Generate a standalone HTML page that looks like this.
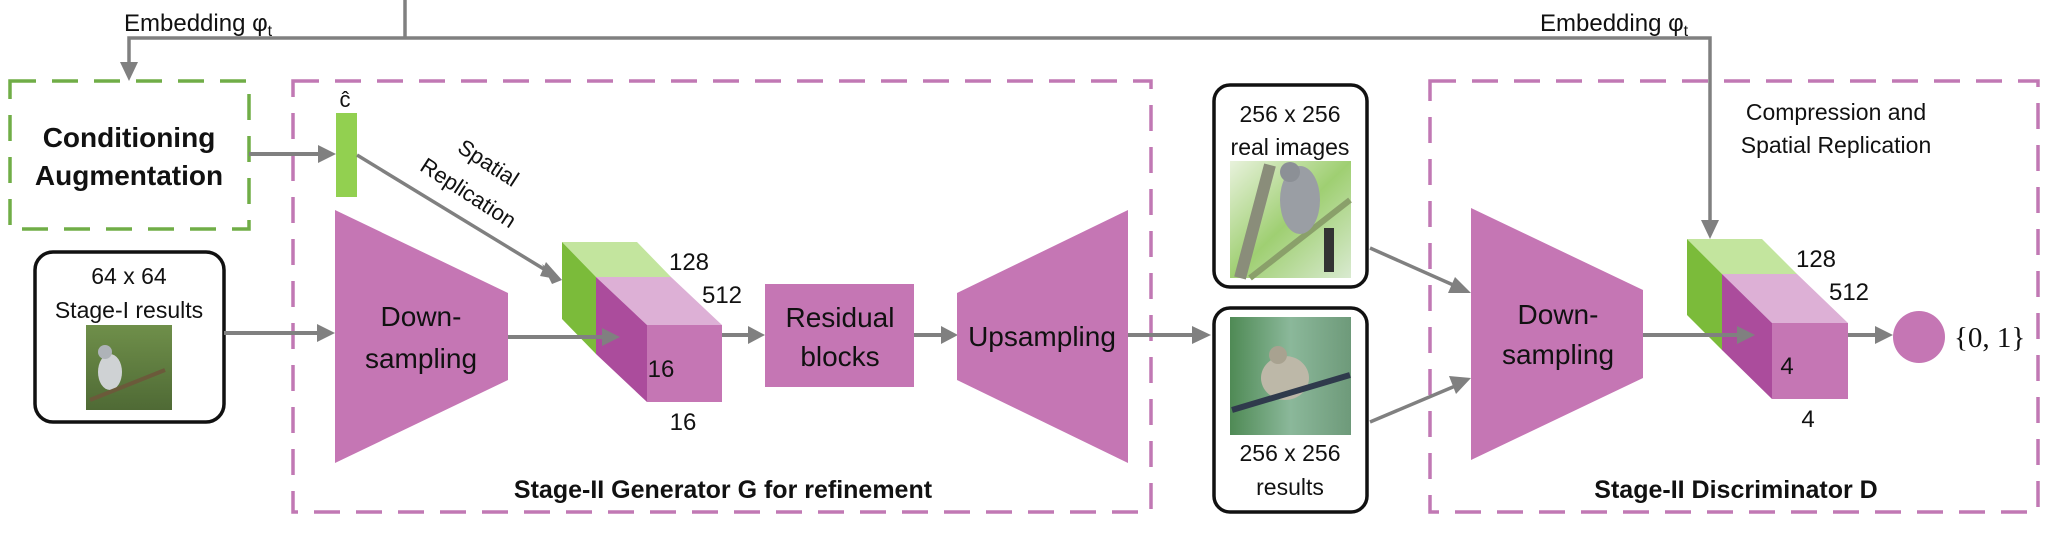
<!DOCTYPE html>
<html><head><meta charset="utf-8"><style>
html,body{margin:0;padding:0;background:#fff;}
svg{display:block;}
text{font-family:"Liberation Sans",sans-serif;fill:#111;}
</style></head><body>
<svg width="2048" height="533" viewBox="0 0 2048 533" xmlns="http://www.w3.org/2000/svg">
<defs>
<marker id="ah" markerWidth="6" markerHeight="6" refX="5" refY="3" orient="auto" markerUnits="strokeWidth">
<path d="M0,0 L6,3 L0,6 z" fill="#808080"/></marker>
<linearGradient id="g1" x1="0" y1="0" x2="0" y2="1"><stop offset="0" stop-color="#6f8f4a"/><stop offset="1" stop-color="#4f6a35"/></linearGradient>
<linearGradient id="g2" x1="0" y1="0" x2="1" y2="1"><stop offset="0" stop-color="#e8f2dc"/><stop offset="0.5" stop-color="#9fcf72"/><stop offset="1" stop-color="#d9ead0"/></linearGradient>
<linearGradient id="g3" x1="0" y1="0" x2="1" y2="0"><stop offset="0" stop-color="#4f8a55"/><stop offset="0.5" stop-color="#8bb89a"/><stop offset="1" stop-color="#6e9a7a"/></linearGradient>
</defs>

<!-- embedding lines -->
<g stroke="#808080" stroke-width="3.5" fill="none">
<line x1="405" y1="0" x2="405" y2="38"/>
<polyline points="129,72 129,38 1710,38 1710,228"/>
</g>
<polygon points="120,62 138,62 129,81" fill="#808080"/>
<polygon points="1701,220 1719,220 1710,239" fill="#808080"/>
<text x="124" y="31" font-size="24">Embedding φ<tspan font-size="16" dy="5">t</tspan></text>
<text x="1540" y="31" font-size="24">Embedding φ<tspan font-size="16" dy="5">t</tspan></text>

<!-- dashed boxes -->
<rect x="10" y="81" width="239" height="148" fill="none" stroke="#70ad47" stroke-width="3.5" stroke-dasharray="26,16"/>
<rect x="293" y="81" width="858" height="431" fill="none" stroke="#c178b4" stroke-width="3.5" stroke-dasharray="26,16"/>
<rect x="1430" y="81" width="608" height="431" fill="none" stroke="#c178b4" stroke-width="3.5" stroke-dasharray="26,16"/>

<text x="129" y="147" font-size="28" font-weight="bold" text-anchor="middle">Conditioning</text>
<text x="129" y="185" font-size="28" font-weight="bold" text-anchor="middle">Augmentation</text>

<!-- CA -> c hat -->
<line x1="249" y1="154" x2="326" y2="154" stroke="#808080" stroke-width="4"/>
<polygon points="318,145 336,154 318,163" fill="#808080"/>
<rect x="336" y="113" width="21" height="84" fill="#92d050"/>
<text x="345" y="107" font-size="22" text-anchor="middle">ĉ</text>

<!-- spatial replication -->
<line x1="357" y1="155" x2="552" y2="274" stroke="#808080" stroke-width="3.5"/>
<polygon points="542,264 562,280 552,284" fill="#808080"/>
<polygon points="546,262 562,280 540,276" fill="#808080"/>
<text x="487" y="170" font-size="22" text-anchor="middle" transform="rotate(33 487 165)">Spatial</text>
<text x="467" y="200" font-size="22" text-anchor="middle" transform="rotate(33 467 195)">Replication</text>

<!-- Stage-I box -->
<rect x="35" y="252" width="189" height="170" rx="18" fill="#fff" stroke="#111" stroke-width="3.5"/>
<text x="129" y="284" font-size="23" text-anchor="middle">64 x 64</text>
<text x="129" y="318" font-size="23" text-anchor="middle">Stage-I results</text>
<rect x="86" y="325" width="86" height="85" fill="url(#g1)"/>
<ellipse cx="110" cy="372" rx="12" ry="18" fill="#cfd2d4"/>
<circle cx="105" cy="352" r="7" fill="#aeb3b8"/>
<line x1="90" y1="400" x2="165" y2="370" stroke="#6b5a3a" stroke-width="4"/>

<line x1="224" y1="333" x2="325" y2="333" stroke="#808080" stroke-width="4"/>
<polygon points="317,324 335,333 317,342" fill="#808080"/>

<!-- Down-sampling G -->
<polygon points="335,210 508,293 508,380 335,463" fill="#c576b4"/>
<text x="421" y="326" font-size="28" text-anchor="middle">Down-</text>
<text x="421" y="368" font-size="28" text-anchor="middle">sampling</text>

<!-- cube G -->
<g>
<polygon points="562,242 637,242 671,277 596,277" fill="#c3e59e"/>
<polygon points="596,277 671,277 722,325 647,325" fill="#ddb0d6"/>
<polygon points="562,242 596,277 596,354 562,319" fill="#7bbb3a"/>
<polygon points="596,277 647,325 647,402 596,354" fill="#ab4c9c"/>
<rect x="647" y="325" width="75" height="77" fill="#c576b4"/>
</g>
<line x1="508" y1="337" x2="610" y2="337" stroke="#808080" stroke-width="4"/>
<polygon points="602,328 620,337 602,346" fill="#808080"/>
<text x="689" y="270" font-size="24" text-anchor="middle">128</text>
<text x="722" y="303" font-size="24" text-anchor="middle">512</text>
<text x="661" y="377" font-size="24" text-anchor="middle">16</text>
<text x="683" y="430" font-size="24" text-anchor="middle">16</text>

<line x1="722" y1="335" x2="754" y2="335" stroke="#808080" stroke-width="4"/>
<polygon points="748,326 765,335 748,344" fill="#808080"/>
<rect x="765" y="284" width="149" height="103" fill="#c576b4"/>
<text x="840" y="327" font-size="28" text-anchor="middle">Residual</text>
<text x="840" y="366" font-size="28" text-anchor="middle">blocks</text>

<line x1="914" y1="335" x2="948" y2="335" stroke="#808080" stroke-width="4"/>
<polygon points="941,326 958,335 941,344" fill="#808080"/>
<polygon points="957,293 1128,210 1128,463 957,380" fill="#c576b4"/>
<text x="1042" y="346" font-size="28" text-anchor="middle">Upsampling</text>

<line x1="1128" y1="335" x2="1200" y2="335" stroke="#808080" stroke-width="4"/>
<polygon points="1192,326 1211,335 1192,344" fill="#808080"/>

<text x="723" y="498" font-size="25" font-weight="bold" text-anchor="middle">Stage-II Generator G for refinement</text>

<!-- real images box -->
<rect x="1214" y="85" width="153" height="202" rx="16" fill="#fff" stroke="#111" stroke-width="3.5"/>
<text x="1290" y="122" font-size="23" text-anchor="middle">256 x 256</text>
<text x="1290" y="155" font-size="23" text-anchor="middle">real images</text>
<rect x="1230" y="161" width="121" height="117" fill="url(#g2)"/>
<line x1="1240" y1="278" x2="1270" y2="165" stroke="#8a8d7a" stroke-width="12"/>
<line x1="1250" y1="278" x2="1350" y2="200" stroke="#8aa06a" stroke-width="6"/>
<ellipse cx="1300" cy="200" rx="20" ry="34" fill="#9a9ea4"/>
<circle cx="1290" cy="172" r="10" fill="#8c9096"/>
<rect x="1324" y="228" width="10" height="44" fill="#333"/>

<!-- results box -->
<rect x="1214" y="308" width="153" height="204" rx="16" fill="#fff" stroke="#111" stroke-width="3.5"/>
<rect x="1230" y="317" width="121" height="118" fill="url(#g3)"/>
<ellipse cx="1285" cy="378" rx="24" ry="22" fill="#bdb8a8"/>
<circle cx="1278" cy="355" r="9" fill="#a8a290"/>
<line x1="1232" y1="410" x2="1350" y2="375" stroke="#2f3a4c" stroke-width="6"/>
<text x="1290" y="461" font-size="23" text-anchor="middle">256 x 256</text>
<text x="1290" y="495" font-size="23" text-anchor="middle">results</text>

<line x1="1370" y1="248" x2="1460" y2="288" stroke="#808080" stroke-width="3.5"/>
<polygon points="1455,277 1471,293 1448,293" fill="#808080"/>
<line x1="1370" y1="422" x2="1460" y2="384" stroke="#808080" stroke-width="3.5"/>
<polygon points="1449,376 1471,378 1456,394" fill="#808080"/>

<!-- D -->
<polygon points="1471,208 1643,290 1643,378 1471,460" fill="#c576b4"/>
<text x="1558" y="324" font-size="28" text-anchor="middle">Down-</text>
<text x="1558" y="364" font-size="28" text-anchor="middle">sampling</text>
<text x="1836" y="120" font-size="23" text-anchor="middle">Compression and</text>
<text x="1836" y="153" font-size="23" text-anchor="middle">Spatial Replication</text>

<g>
<polygon points="1687,239 1762,239 1797,274 1722,274" fill="#c3e59e"/>
<polygon points="1722,274 1797,274 1848,323 1772,323" fill="#ddb0d6"/>
<polygon points="1687,239 1722,274 1722,350 1687,315" fill="#7bbb3a"/>
<polygon points="1722,274 1772,323 1772,399 1722,350" fill="#ab4c9c"/>
<rect x="1772" y="323" width="76" height="76" fill="#c576b4"/>
</g>
<line x1="1643" y1="335" x2="1745" y2="335" stroke="#808080" stroke-width="4"/>
<polygon points="1737,326 1755,335 1737,344" fill="#808080"/>
<text x="1816" y="267" font-size="24" text-anchor="middle">128</text>
<text x="1849" y="300" font-size="24" text-anchor="middle">512</text>
<text x="1787" y="374" font-size="24" text-anchor="middle">4</text>
<text x="1808" y="427" font-size="24" text-anchor="middle">4</text>

<line x1="1848" y1="335" x2="1882" y2="335" stroke="#808080" stroke-width="4"/>
<polygon points="1875,326 1893,335 1875,344" fill="#808080"/>
<circle cx="1919" cy="337" r="26" fill="#c576b4"/>
<text x="1954" y="347" font-size="29" style="font-family:'Liberation Serif',serif">{0, 1}</text>

<text x="1736" y="498" font-size="25" font-weight="bold" text-anchor="middle">Stage-II Discriminator D</text>
</svg>
</body></html>
